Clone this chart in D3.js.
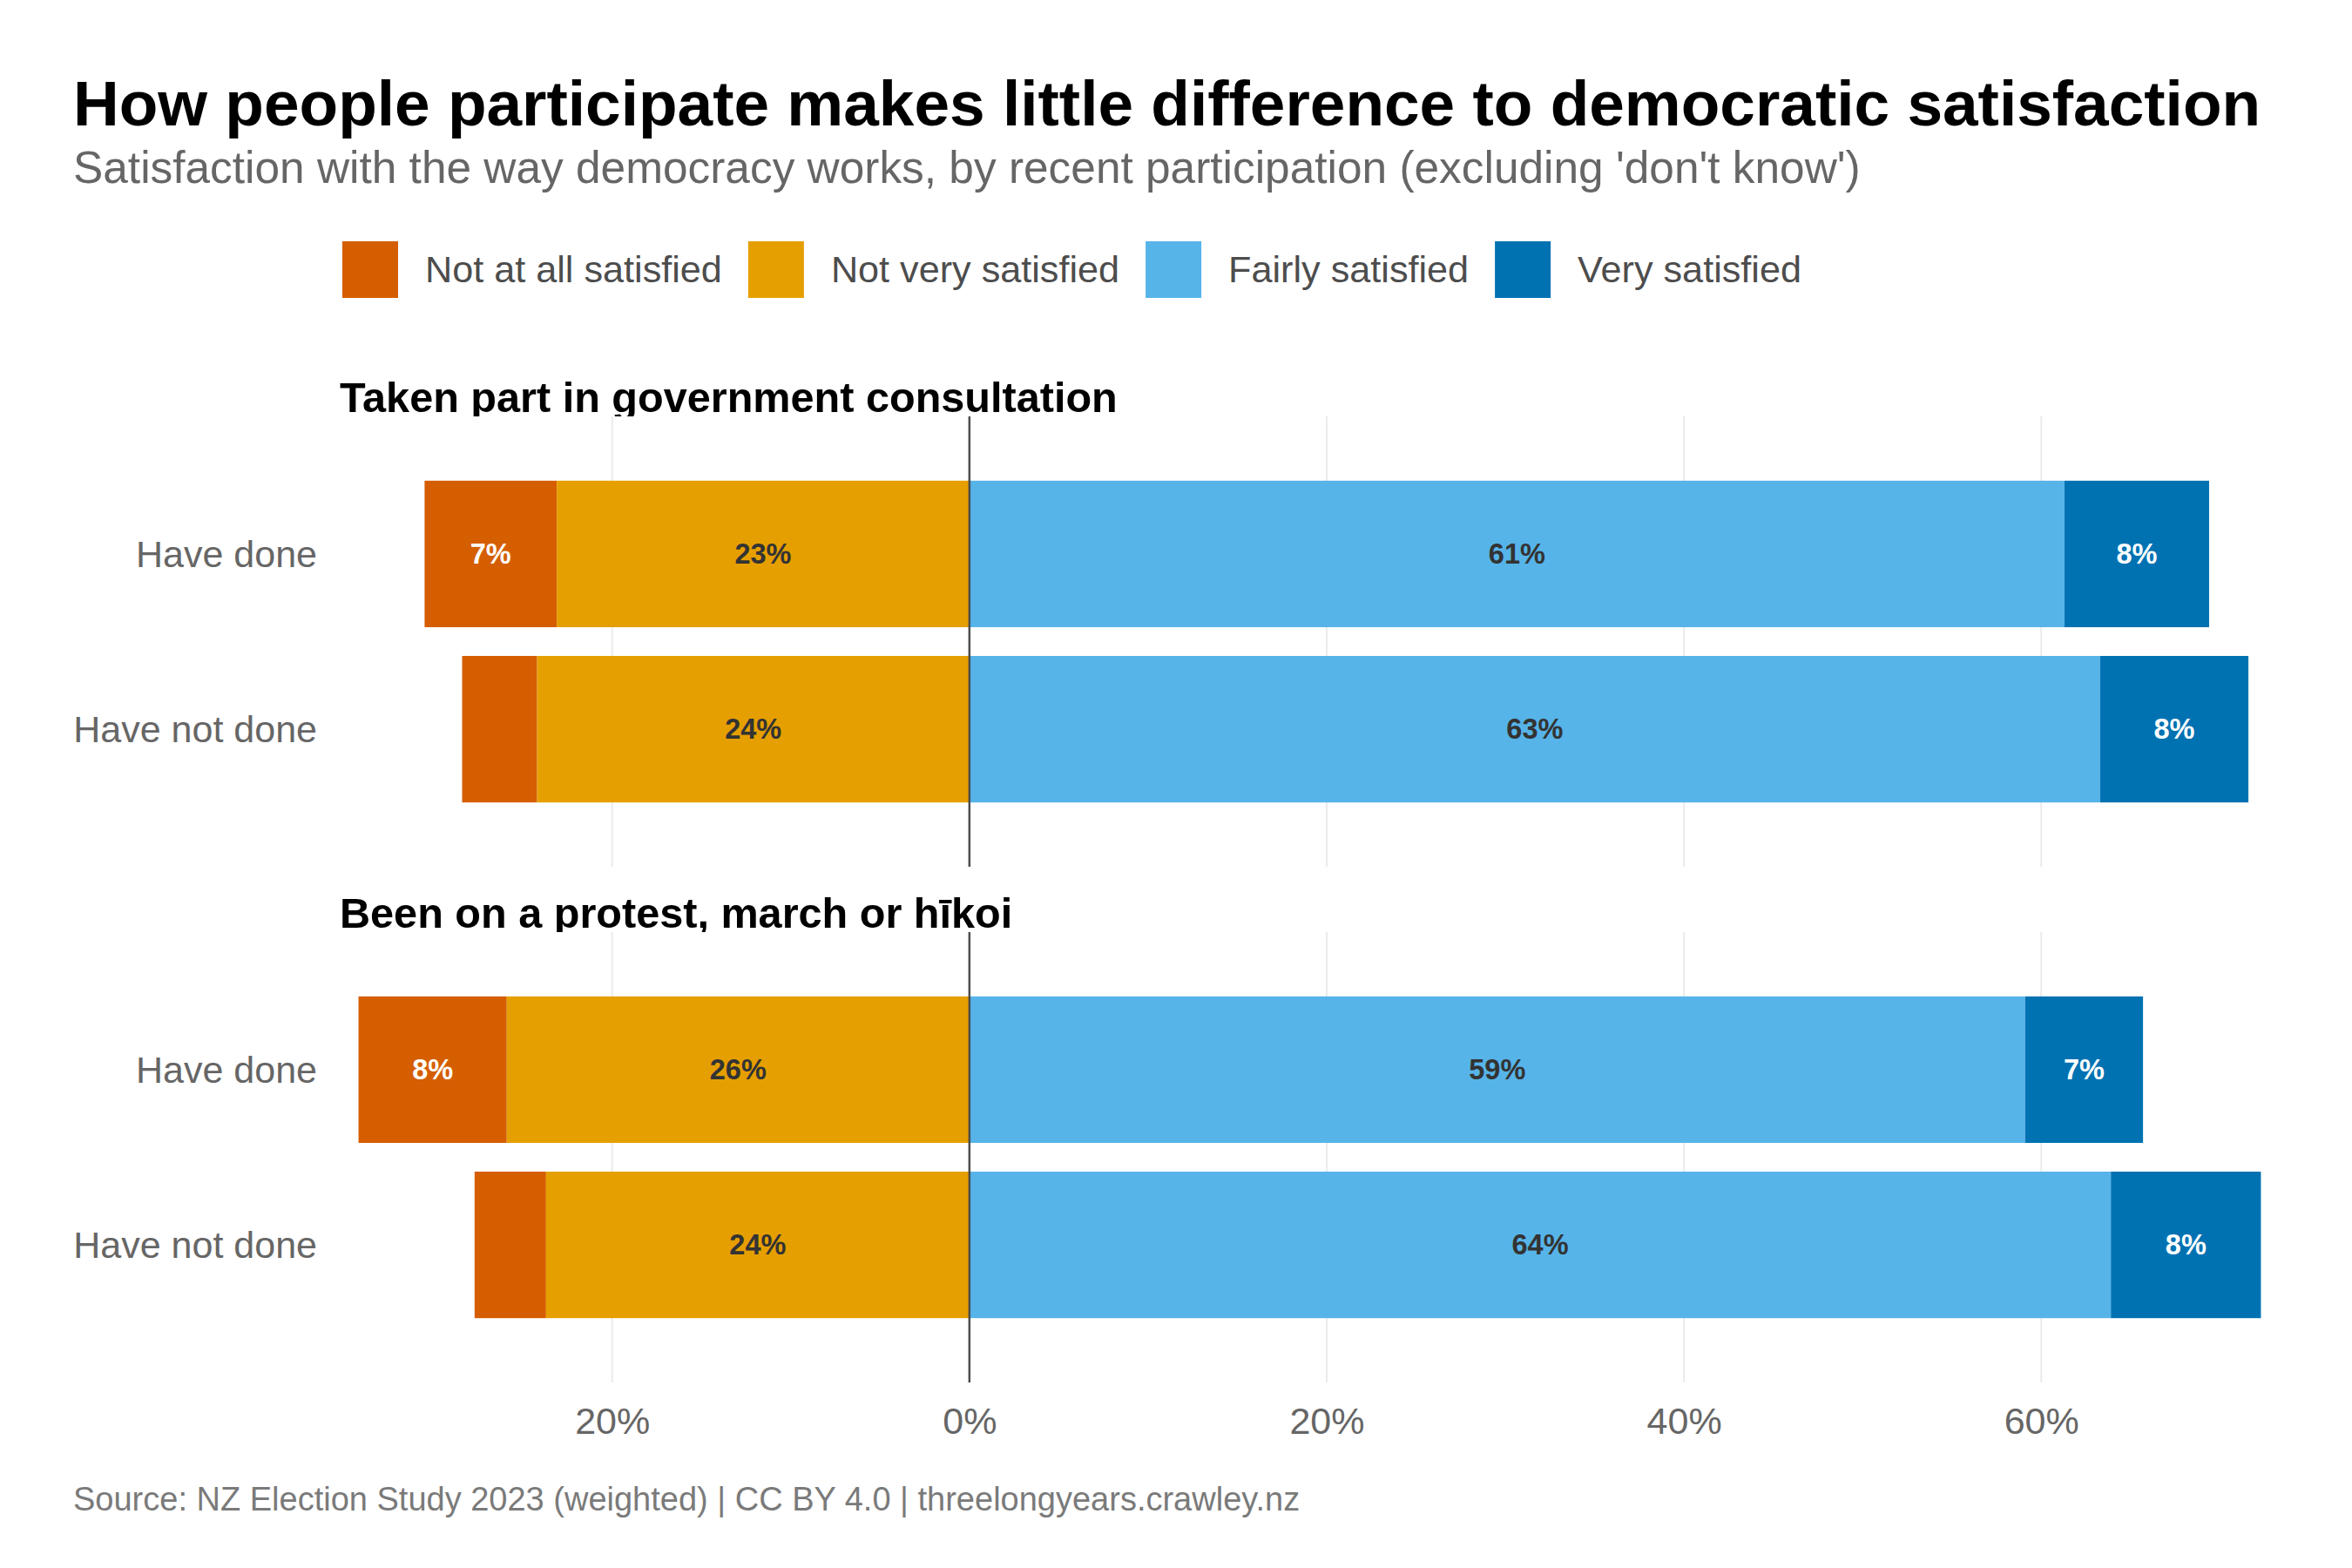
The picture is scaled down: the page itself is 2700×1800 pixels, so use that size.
<!DOCTYPE html>
<html>
<head>
<meta charset="utf-8">
<script src="https://cdn.jsdelivr.net/npm/d3@7"></script>
<style>
  body { margin: 0; background: #fff; }
  text { font-family: "Liberation Sans", Arial, sans-serif; }
</style>
</head>
<body>
<div class="canvas"></div>
<script>
// data (percent, excluding don't know)
const categories = ['Not at all satisfied', 'Not very satisfied', 'Fairly satisfied', 'Very satisfied'];
const facets = ['Taken part in government consultation', 'Been on a protest, march or hīkoi'];
const rows = ['Have done', 'Have not done'];
const consultDone = [7.4, 23.1, 61.3, 8.1];
const consultNotDone = [4.2, 24.2, 63.3, 8.3];
const protestDone = [8.3, 25.9, 59.1, 6.6];
const protestNotDone = [4.0, 23.7, 63.9, 8.4];
const tickValues = [-20, 0, 20, 40, 60];

const colours = ['#D55E00', '#E69F00', '#56B4E9', '#0072B2'];
const labelColours = ['#ffffff', '#333333', '#333333', '#ffffff'];

const facetData = [
  [consultDone, consultNotDone],
  [protestDone, protestNotDone]
];

// dimensions
const dims = {width: 2700, height: 1800};
const panel = {left: 390, right: 2618, height: 517, tops: [478, 1070]};

const svg = d3.select('.canvas')
  .append('svg')
  .attr('width', dims.width)
  .attr('height', dims.height);

svg.append('rect')
  .attr('width', dims.width)
  .attr('height', dims.height)
  .attr('fill', '#fff');

// scales
const x = d3.scaleLinear()
  .domain([-35.25, 73.4])
  .range([panel.left, panel.right]);

const y = d3.scaleBand()
  .domain(rows)
  .range([0, panel.height])
  .paddingInner(0.164)
  .paddingOuter(0.367);

const colour = d3.scaleOrdinal().domain(categories).range(colours);

// title + subtitle
svg.append('text')
  .attr('x', 84).attr('y', 144)
  .attr('font-size', 73).attr('font-weight', 'bold')
  .attr('fill', '#000')
  .text('How people participate makes little difference to democratic satisfaction');

svg.append('text')
  .attr('x', 84).attr('y', 210)
  .attr('font-size', 51.4)
  .attr('fill', '#666')
  .text("Satisfaction with the way democracy works, by recent participation (excluding 'don't know')");

// legend
const legendGroup = svg.append('g').attr('transform', 'translate(393, 277)');
let lx = 0;
categories.forEach((c, i) => {
  legendGroup.append('rect')
    .attr('x', lx).attr('y', 0)
    .attr('width', 64).attr('height', 65)
    .attr('fill', colour(c));
  const t = legendGroup.append('text')
    .attr('x', lx + 95).attr('y', 47)
    .attr('font-size', 43.2)
    .attr('fill', '#4d4d4d')
    .text(c);
  lx += 95 + t.node().getComputedTextLength() + 30;
});

// turn a row of values into stacked segments around zero
const stack = (vals) => {
  const segs = [];
  segs.push({i: 0, x0: -(vals[0] + vals[1]), x1: -vals[1], v: vals[0]});
  segs.push({i: 1, x0: -vals[1], x1: 0, v: vals[1]});
  segs.push({i: 2, x0: 0, x1: vals[2], v: vals[2]});
  segs.push({i: 3, x0: vals[2], x1: vals[2] + vals[3], v: vals[3]});
  return segs;
};

const defs = svg.append('defs');

facets.forEach((f, fi) => {
  const top = panel.tops[fi];

  // strip title, clipped at the panel top like the original
  defs.append('clipPath').attr('id', 'strip' + fi)
    .append('rect')
    .attr('x', 0).attr('y', top - 80)
    .attr('width', dims.width).attr('height', 80);

  svg.append('text')
    .attr('clip-path', `url(#strip${fi})`)
    .attr('x', panel.left).attr('y', top - 5)
    .attr('font-size', 48.6).attr('font-weight', 'bold')
    .attr('fill', '#000')
    .text(f);

  const g = svg.append('g').attr('transform', `translate(0, ${top})`);

  // gridlines
  g.selectAll('line.grid')
    .data(tickValues.filter(d => d !== 0))
    .enter().append('line')
    .attr('class', 'grid')
    .attr('x1', d => x(d)).attr('x2', d => x(d))
    .attr('y1', 0).attr('y2', panel.height)
    .attr('stroke', '#ebebeb')
    .attr('stroke-width', 2);

  // y labels
  g.selectAll('text.ylab')
    .data(rows)
    .enter().append('text')
    .attr('class', 'ylab')
    .attr('x', 364)
    .attr('y', d => y(d) + y.bandwidth() / 2)
    .attr('dy', '0.35em')
    .attr('text-anchor', 'end')
    .attr('font-size', 43)
    .attr('fill', '#666')
    .text(d => d);

  rows.forEach((r, ri) => {
    const segs = stack(facetData[fi][ri]);
    const rowG = g.append('g');

    rowG.selectAll('rect')
      .data(segs)
      .enter().append('rect')
      .attr('x', d => x(d.x0))
      .attr('width', d => x(d.x1) - x(d.x0))
      .attr('y', y(r))
      .attr('height', y.bandwidth())
      .attr('fill', d => colours[d.i]);

    rowG.selectAll('text')
      .data(segs.filter(d => d.v >= 5))
      .enter().append('text')
      .attr('x', d => x((d.x0 + d.x1) / 2))
      .attr('y', y(r) + y.bandwidth() / 2)
      .attr('dy', '0.35em')
      .attr('text-anchor', 'middle')
      .attr('font-size', 32.5).attr('font-weight', 'bold')
      .attr('fill', d => labelColours[d.i])
      .text(d => Math.round(d.v) + '%');
  });

  // zero line
  g.append('line')
    .attr('x1', x(0)).attr('x2', x(0))
    .attr('y1', 0).attr('y2', panel.height)
    .attr('stroke', '#4d4d4d')
    .attr('stroke-width', 2.5);
});

// x axis
const xAxis = d3.axisBottom(x)
  .tickValues(tickValues)
  .tickSize(0)
  .tickPadding(0)
  .tickFormat(d => Math.abs(d) + '%');

const axisG = svg.append('g')
  .attr('transform', `translate(0, ${panel.tops[1] + panel.height + 28})`)
  .call(xAxis);

axisG.select('.domain').remove();
axisG.selectAll('text')
  .attr('font-size', 43)
  .attr('font-family', '"Liberation Sans", Arial, sans-serif')
  .attr('fill', '#666');

// caption
svg.append('text')
  .attr('x', 84).attr('y', 1734)
  .attr('font-size', 38)
  .attr('fill', '#7a7a7a')
  .text('Source: NZ Election Study 2023 (weighted) | CC BY 4.0 | threelongyears.crawley.nz');
</script>
</body>
</html>
